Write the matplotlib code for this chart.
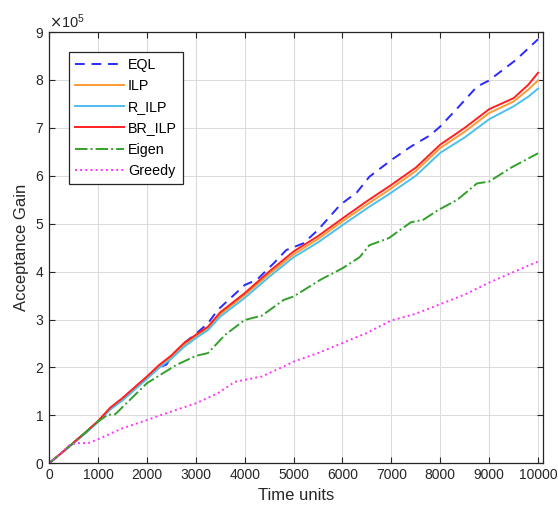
import matplotlib
matplotlib.use("Agg")
import matplotlib.pyplot as plt
import numpy as np

plt.rcParams['font.family'] = ['Liberation Sans', 'DejaVu Sans']

# values, in units of 1e5
t_main = [0, 250, 500, 750, 1000, 1250, 1500, 2000, 2250, 2500, 2750, 3000, 3250,
          3500, 4000, 4500, 5000, 5500, 6000, 6500, 7000, 7500, 8000, 8500, 9000,
          9500, 9800, 10000]
br_ilp = [0, 0.21, 0.43, 0.65, 0.88, 1.16, 1.36, 1.81, 2.05, 2.25, 2.50, 2.68, 2.85,
          3.15, 3.55, 4.00, 4.42, 4.74, 5.11, 5.47, 5.81, 6.17, 6.65, 7.00, 7.39,
          7.62, 7.90, 8.15]
ilp = [0, 0.21, 0.42, 0.64, 0.87, 1.14, 1.34, 1.79, 2.02, 2.22, 2.46, 2.65, 2.82,
       3.11, 3.51, 3.95, 4.36, 4.68, 5.05, 5.40, 5.74, 6.10, 6.58, 6.92, 7.31,
       7.55, 7.80, 7.99]
r_ilp = [0, 0.21, 0.42, 0.63, 0.86, 1.12, 1.31, 1.76, 1.99, 2.18, 2.42, 2.61, 2.78,
         3.06, 3.45, 3.89, 4.30, 4.61, 4.97, 5.32, 5.65, 6.00, 6.48, 6.80, 7.18,
         7.45, 7.65, 7.82]

t_eql = [0, 250, 500, 750, 1000, 1250, 1500, 2000, 2250, 2400, 2500, 2750, 3000,
         3250, 3450, 4000, 4250, 4600, 4850, 5200, 5500, 5950, 6300, 6550, 7000,
         7400, 7800, 8000, 8350, 8750, 9000, 9150, 9550, 10000]
eql = [0, 0.21, 0.43, 0.65, 0.87, 1.14, 1.35, 1.80, 2.00, 2.06, 2.22, 2.50, 2.70,
       2.92, 3.20, 3.72, 3.83, 4.18, 4.45, 4.59, 4.87, 5.39, 5.66, 5.98, 6.33,
       6.61, 6.85, 7.03, 7.41, 7.86, 7.99, 8.11, 8.42, 8.85]

t_eigen = [0, 250, 500, 750, 1000, 1200, 1350, 2000, 2600, 3000, 3250, 3600, 4000,
           4350, 4800, 5000, 5550, 6000, 6350, 6550, 6950, 7400, 7650, 7950, 8350,
           8750, 9000, 9450, 10000]
eigen = [0, 0.21, 0.43, 0.65, 0.87, 1.01, 1.02, 1.67, 2.05, 2.24, 2.30, 2.68, 2.99,
         3.08, 3.41, 3.48, 3.83, 4.07, 4.30, 4.55, 4.70, 5.03, 5.08, 5.28, 5.50,
         5.84, 5.88, 6.17, 6.47]

t_greedy = [0, 250, 400, 550, 800, 1000, 1500, 2000, 2300, 3000, 3450, 3800, 4350,
            4800, 5000, 5500, 6000, 6500, 7000, 7500, 8000, 8500, 9000, 9450, 10000]
greedy = [0, 0.21, 0.37, 0.42, 0.42, 0.50, 0.73, 0.90, 1.01, 1.25, 1.46, 1.70, 1.81,
          2.02, 2.12, 2.30, 2.51, 2.72, 2.98, 3.12, 3.32, 3.52, 3.77, 3.97, 4.21]

fig = plt.figure(figsize=(5.58, 5.17), dpi=100)
ax = fig.add_axes([0.088, 0.104, 0.885, 0.834])

s = 1e5
ax.plot(t_eql, np.array(eql) * s, '--', color='#2a2aff', lw=1.4, dashes=(5, 3.5), label='EQL')
ax.plot(t_main, np.array(ilp) * s, '-', color='#ff9933', lw=1.4, label='ILP')
ax.plot(t_main, np.array(r_ilp) * s, '-', color='#4dbeee', lw=1.4, label='R_ILP')
ax.plot(t_main, np.array(br_ilp) * s, '-', color='#ff2020', lw=1.4, label='BR_ILP')
ax.plot(t_eigen, np.array(eigen) * s, '-.', color='#33a02c', lw=1.4, label='Eigen')
ax.plot(t_greedy, np.array(greedy) * s, ':', color='#ff33ff', lw=1.4, label='Greedy')

ax.set_xlim(0, 10100)
ax.set_ylim(0, 9e5)
ax.set_xticks(np.arange(0, 10001, 1000))
ax.set_yticks(np.arange(0, 9.01e5, 1e5))
ax.ticklabel_format(style='sci', axis='y', scilimits=(0, 0), useMathText=True)
ax.yaxis.get_offset_text().set_fontsize(10.5)
ax.tick_params(direction='in', top=True, right=True, labelsize=10, length=4,
               colors='#262626')
ax.grid(True, color='#dcdcdc', lw=0.8)
for sp in ax.spines.values():
    sp.set_color('#262626')
    sp.set_linewidth(0.9)

ax.set_xlabel('Time units', fontsize=12, color='#262626')
ax.set_ylabel('Acceptance Gain', fontsize=12, color='#262626')

leg = ax.legend(loc='upper left', bbox_to_anchor=(0.041, 0.953), borderaxespad=0,
                fontsize=10.3, handlelength=3.4, handletextpad=0.3, labelspacing=0.5,
                fancybox=False, framealpha=1, edgecolor='#262626')
leg.get_frame().set_linewidth(0.9)

fig.savefig('out.png', dpi=100)
